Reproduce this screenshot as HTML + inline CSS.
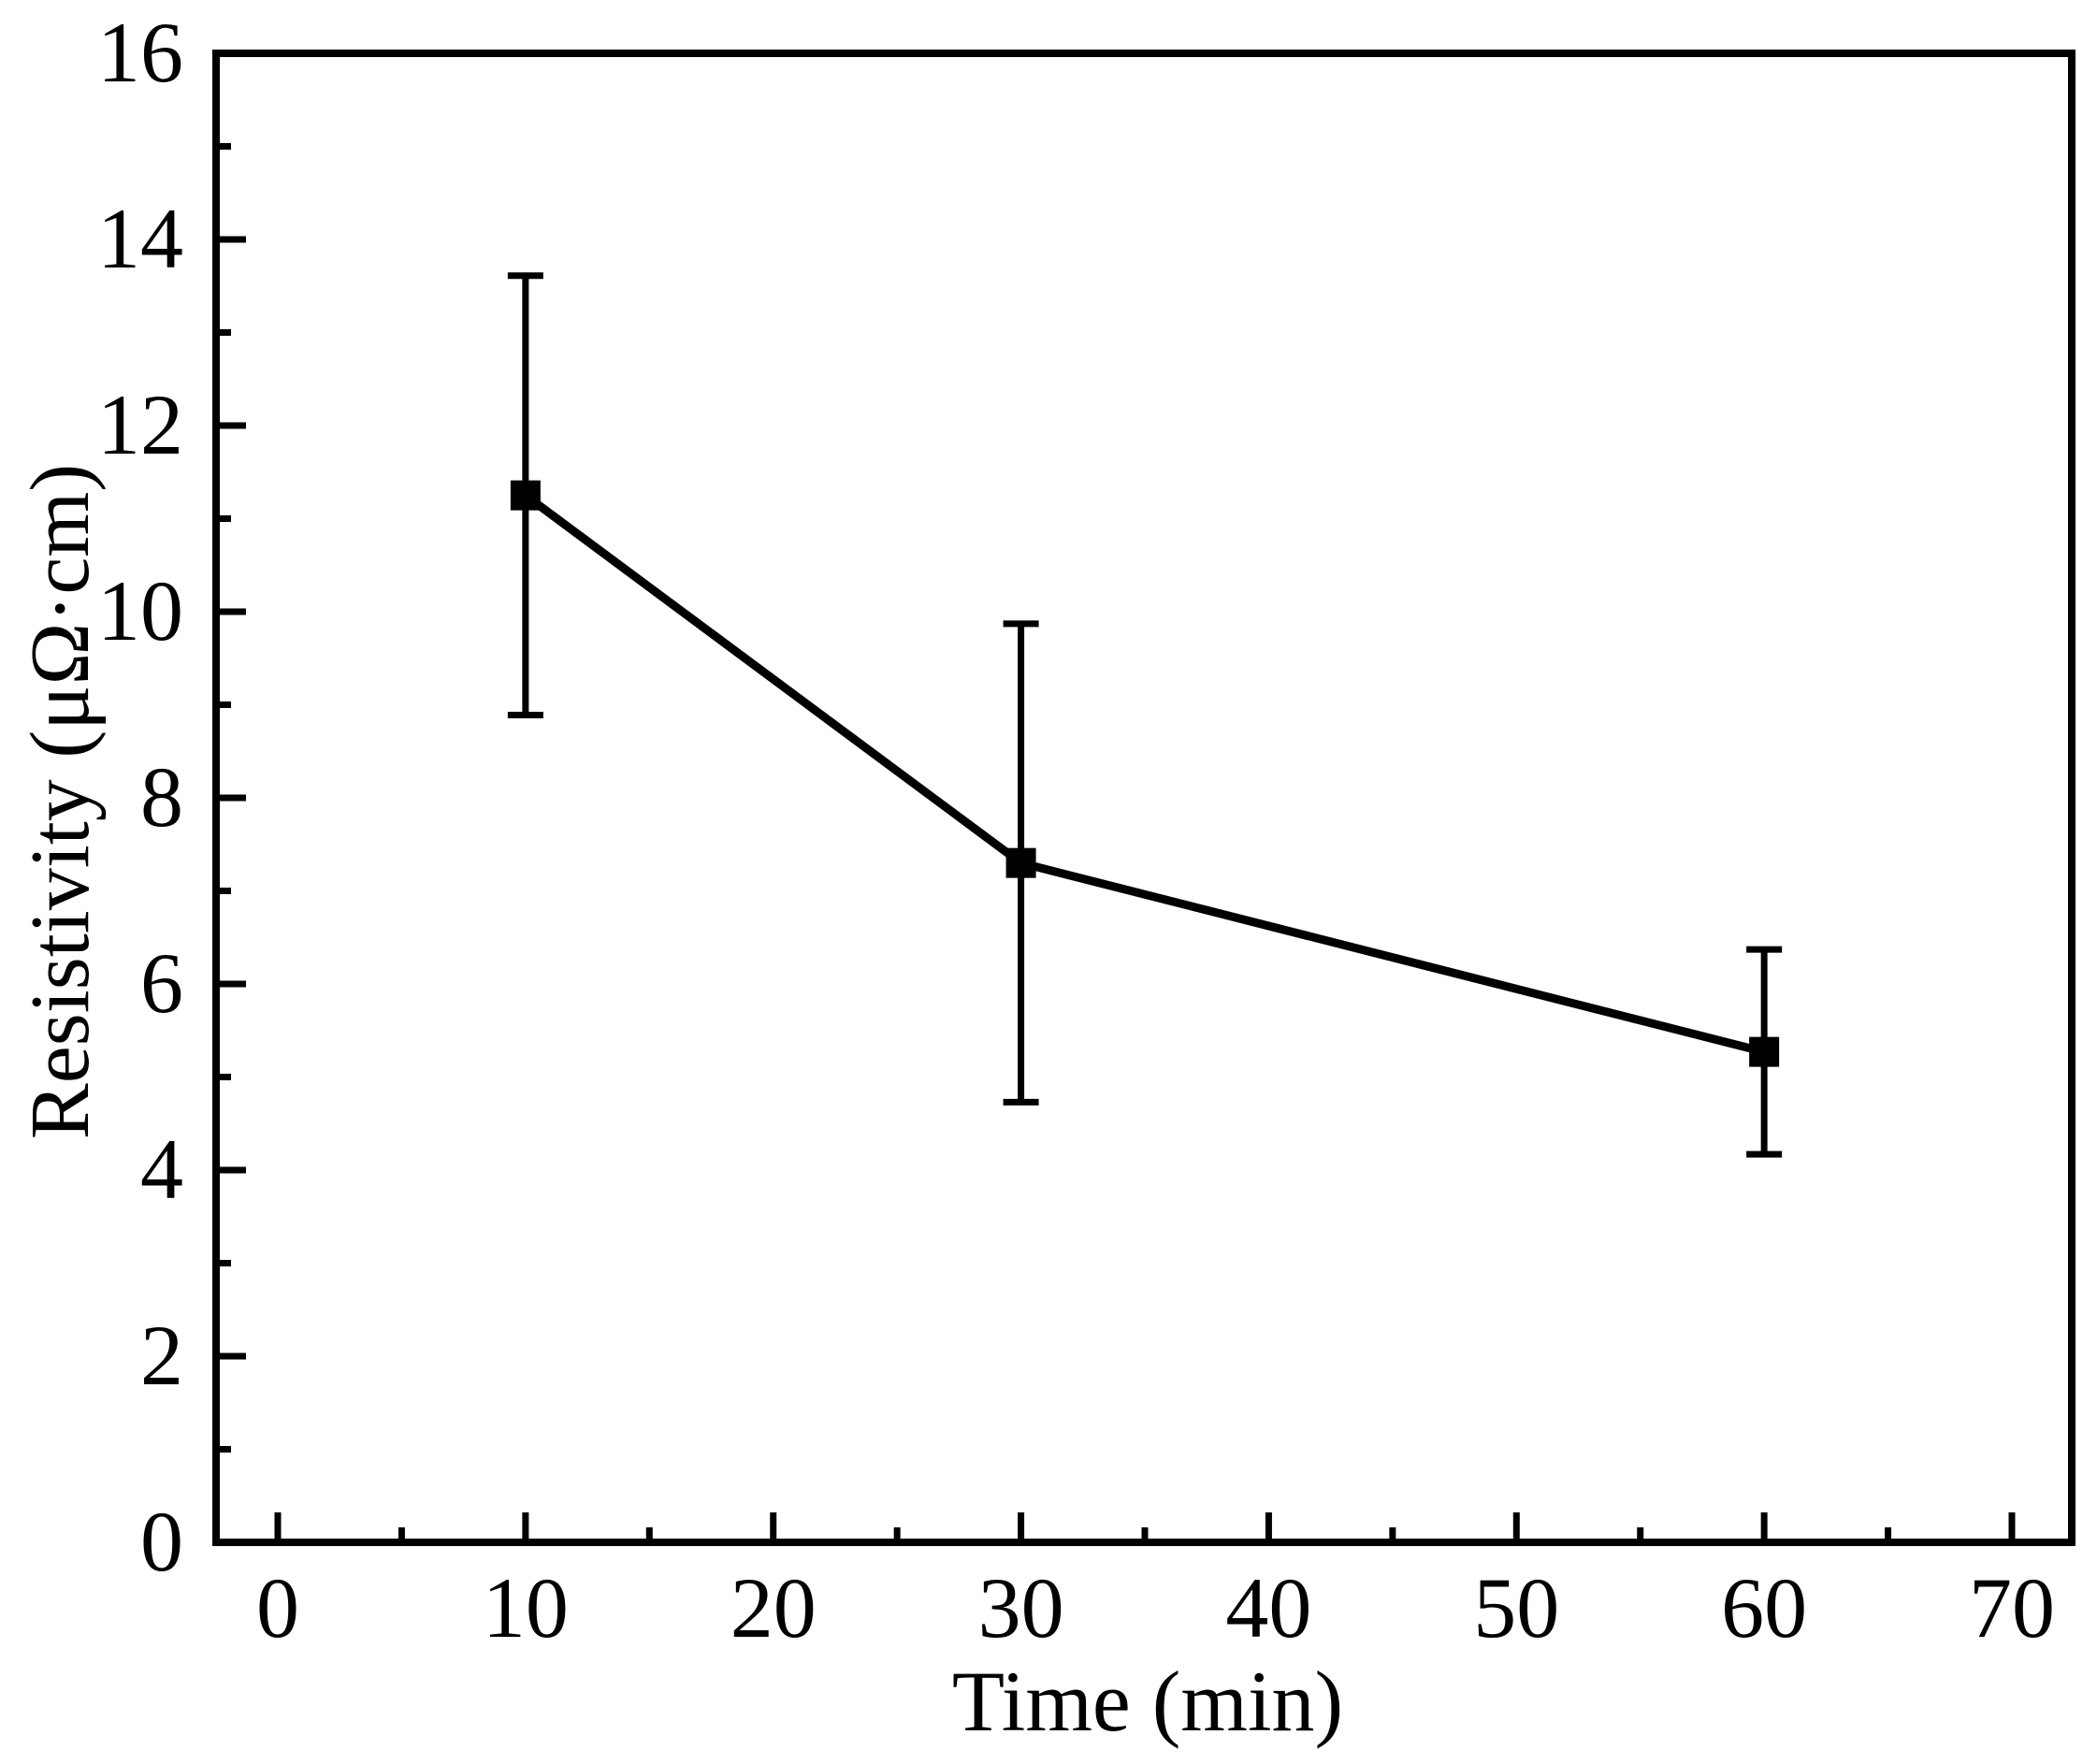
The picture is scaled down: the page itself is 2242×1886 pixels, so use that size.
<!DOCTYPE html>
<html><head><meta charset="utf-8"><style>
html,body{margin:0;padding:0;background:#fff;}
svg{display:block;font-family:"Liberation Serif",serif;}
</style></head><body>
<svg id="chart" width="2242" height="1886" viewBox="0 0 2242 1886" xmlns="http://www.w3.org/2000/svg"></svg>
<script>
const times = [10, 30, 60];
const resistivity = [11.25, 7.3, 5.27];
const errors = [2.36, 2.57, 1.1];
const xTicks = [0, 10, 20, 30, 40, 50, 60, 70];
const yTicks = [0, 2, 4, 6, 8, 10, 12, 14, 16];

const L = 231, R = 2215, T = 57, B = 1649;
const x0 = 297, xPer = (2151 - 297) / 70;
const X = v => x0 + v * xPer;
const Y = v => B - (B - T) * v / 16;
const svg = document.getElementById('chart');
const NS = 'http://www.w3.org/2000/svg';
function mk(tag, attrs, parent) {
  const e = document.createElementNS(NS, tag);
  for (const k in attrs) e.setAttribute(k, attrs[k]);
  (parent || svg).appendChild(e);
  return e;
}
for (const t of xTicks) {
  const l = mk('line', {x1: X(t), x2: X(t), y1: B, y2: B - 32, stroke: '#000', 'stroke-width': 7});
  
  
  const tx = mk('text', {x: X(t), y: 1750, 'font-size': 92, 'text-anchor': 'middle'});
  tx.textContent = t;
  
  
  if (t < 70) {
    const m = mk('line', {x1: X(t + 5), x2: X(t + 5), y1: B, y2: B - 16, stroke: '#000', 'stroke-width': 7});
    
    
  }
}
for (const t of yTicks) {
  const l = mk('line', {x1: L, x2: L + 32, y1: Y(t), y2: Y(t), stroke: '#000', 'stroke-width': 7});
  
  
  const tx = mk('text', {x: 196, y: Y(t) + 30, 'font-size': 92, 'text-anchor': 'end'});
  tx.textContent = t;
  
  
  if (t < 16) {
    const m = mk('line', {x1: L, x2: L + 16, y1: Y(t + 1), y2: Y(t + 1), stroke: '#000', 'stroke-width': 7});
    
    
  }
}
const fr = mk('rect', {x: L, y: T, width: R - L, height: B - T, fill: 'none', stroke: '#000', 'stroke-width': 8});


times.forEach((t, i) => {
  const g = mk('g', {stroke: '#000', 'stroke-width': 7});
  
  
  const hi = Y(resistivity[i] + errors[i]), lo = Y(resistivity[i] - errors[i]);
  mk('line', {x1: X(t), x2: X(t), y1: hi, y2: lo}, g);
  mk('line', {x1: X(t) - 19, x2: X(t) + 19, y1: hi, y2: hi}, g);
  mk('line', {x1: X(t) - 19, x2: X(t) + 19, y1: lo, y2: lo}, g);
});
const pl = mk('polyline', {points: times.map((t, i) => X(t) + ',' + Y(resistivity[i])).join(' '), fill: 'none', stroke: '#000', 'stroke-width': 9});


times.forEach((t, i) => {
  const r = mk('rect', {x: X(t) - 16, y: Y(resistivity[i]) - 16, width: 32, height: 32, fill: '#000'});
  
  
});
const xt = mk('text', {x: 1227, y: 1850, 'font-size': 92, 'text-anchor': 'middle'});
xt.textContent = 'Time (min)';


const yt = mk('text', {x: 0, y: 0, 'font-size': 90, 'text-anchor': 'middle', transform: 'translate(94,857) rotate(-90)'});
yt.textContent = 'Resistivity (μΩ·cm)';


</script>
</body></html>
